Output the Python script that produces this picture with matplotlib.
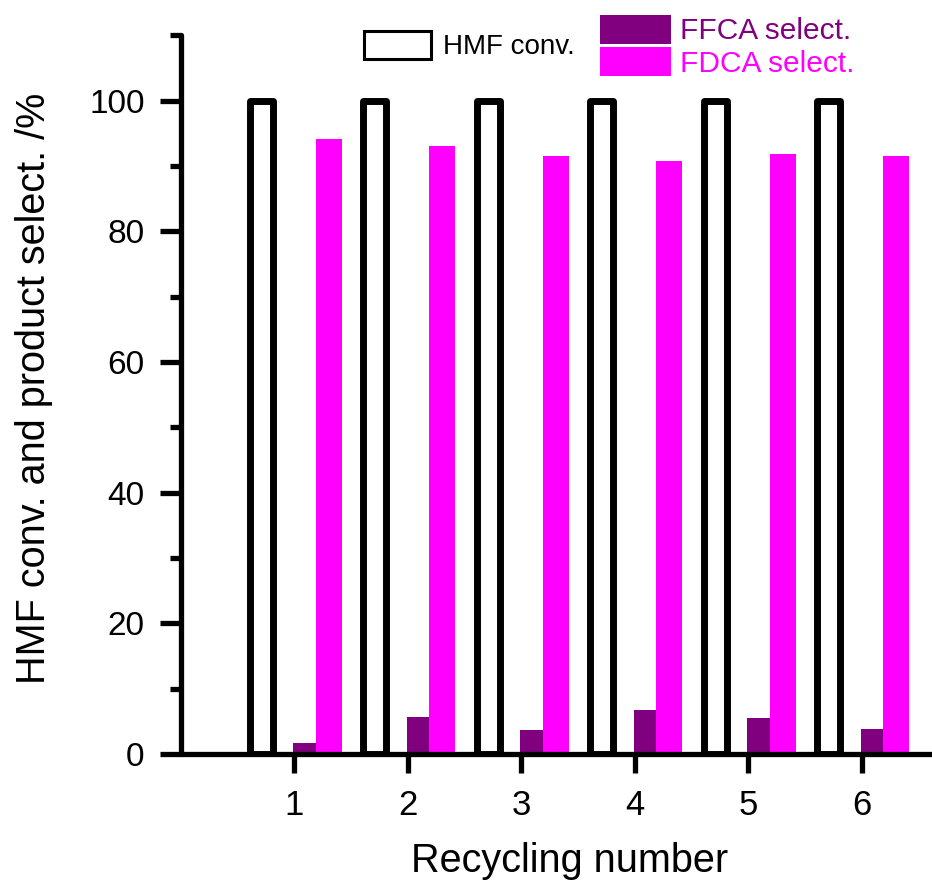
import matplotlib
matplotlib.use('Agg')
import matplotlib.pyplot as plt
from matplotlib.patches import Patch
from matplotlib.ticker import MultipleLocator
import numpy as np

plt.rcParams['font.family'] = ['Liberation Sans', 'DejaVu Sans']

cycles = [1, 2, 3, 4, 5, 6]
hmf_conv = [100, 100, 100, 100, 100, 100]
ffca_select = [1.7, 5.6, 3.7, 6.7, 5.5, 3.8]
fdca_select = [94.2, 93.1, 91.6, 90.7, 91.8, 91.6]

x = np.array(cycles)

fig = plt.figure(figsize=(9.32, 8.84), dpi=100)
ax = fig.add_axes([0.194, 0.147, 0.806, 0.813])

# HMF conversion: open bars with thick black outline
ax.bar(x - 0.39, hmf_conv, width=0.2, align='edge', facecolor='white',
       edgecolor='black', linewidth=5, joinstyle='round', zorder=3)
ax.bar(x - 0.01, ffca_select, width=0.2, align='edge', color='#800080', zorder=2)
ax.bar(x + 0.19, fdca_select, width=0.23, align='edge', color='#ff00ff', zorder=2)

ax.set_xlim(0, 6.62)
ax.set_ylim(0, 110)
ax.set_xticks(cycles)
ax.yaxis.set_major_locator(MultipleLocator(20))
ax.yaxis.set_minor_locator(MultipleLocator(10))

for side in ['top', 'right']:
    ax.spines[side].set_visible(False)
for side in ['left', 'bottom']:
    ax.spines[side].set_linewidth(3.8)
    ax.spines[side].set_capstyle('round')

ax.tick_params(axis='y', which='major', direction='out', length=15, width=3.8,
               labelsize=24, pad=11)
ax.tick_params(axis='y', which='minor', direction='out', length=8, width=3.8)
ax.tick_params(axis='x', which='major', direction='out', length=14, width=3.8,
               labelsize=25, pad=11)

ax.set_xlabel('Recycling number', fontsize=28.5, va='baseline')
ax.set_ylabel('HMF conv. and product select. /%', fontsize=28.5, va='baseline')
ax.xaxis.set_label_coords(0.518, -0.164)
ax.yaxis.set_label_coords(-0.181, 0.509)

# legends
leg1 = ax.legend(handles=[Patch(facecolor='white', edgecolor='black', linewidth=2.2)],
                 labels=['HMF conv.'], loc='center left',
                 bbox_to_anchor=(0.244, 0.986), frameon=False, fontsize=20,
                 handlelength=2.4, handleheight=1.22, handletextpad=0.45,
                 borderaxespad=0, borderpad=0)
ax.add_artist(leg1)
ax.legend(handles=[Patch(facecolor='#800080'), Patch(facecolor='#ff00ff')],
          labels=['FFCA select.', 'FDCA select.'], loc='center left',
          bbox_to_anchor=(0.558, 0.985), frameon=False, fontsize=21.5,
          handlelength=2.37, handleheight=1.12, handletextpad=0.3,
          labelspacing=0.06, labelcolor=['#800080', '#ff00ff'],
          borderaxespad=0, borderpad=0)

fig.savefig('out.png', dpi=100)
